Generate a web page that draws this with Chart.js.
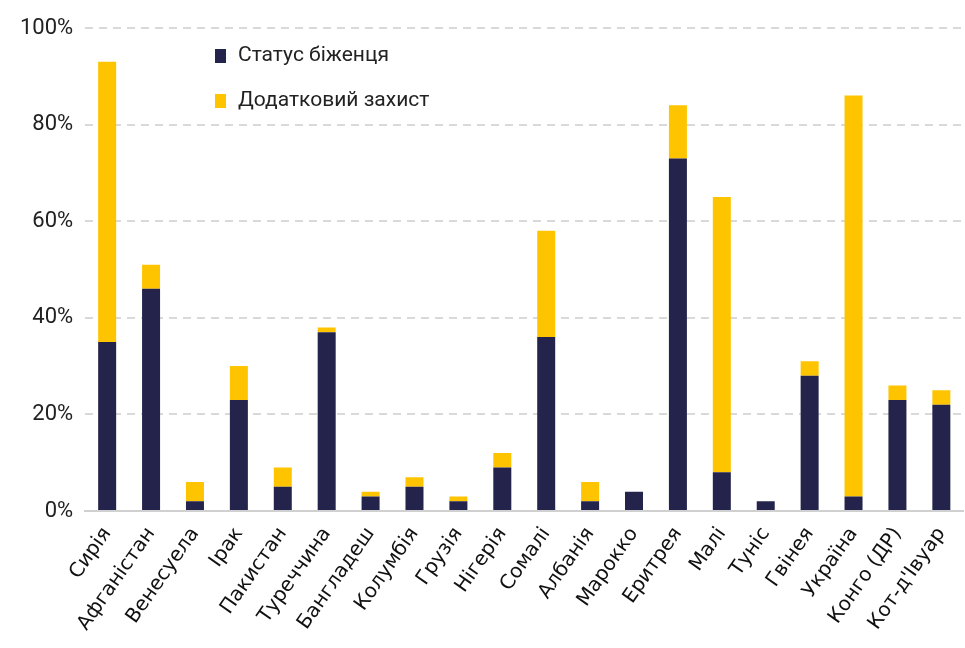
<!DOCTYPE html>
<html lang="uk">
<head>
<meta charset="utf-8">
<title>Статус біженця та додатковий захист</title>
<script src="https://cdn.jsdelivr.net/npm/chart.js@4/dist/chart.umd.min.js"></script>
<style>
  html, body { margin: 0; padding: 0; background: #fff; }
  #wrap { width: 965px; height: 648px; }
</style>
</head>
<body>
<div id="wrap"><canvas id="refugeeChart"></canvas></div>
<script>
// ==========================
// DATA
// ==========================
const countries = ['Сирія', 'Афганістан', 'Венесуела', 'Ірак', 'Пакистан', 'Туреччина', 'Бангладеш',
  'Колумбія', 'Грузія', 'Нігерія', 'Сомалі', 'Албанія', 'Марокко', 'Еритрея', 'Малі', 'Туніс',
  'Гвінея', 'Україна', 'Конго (ДР)', "Кот-д'Івуар"];
const refugeeStatus = [35, 46, 2, 23, 5, 37, 3, 5, 2, 9, 36, 2, 4, 73, 8, 2, 28, 3, 23, 22];
const subsidiaryProtection = [58, 5, 4, 7, 4, 1, 1, 2, 1, 3, 22, 4, 0, 11, 57, 0, 3, 83, 3, 3];
const yTicks = [0, 20, 40, 60, 80, 100];

const NAVY = '#24234b';
const YELLOW = '#ffc400';
const NARROW = 'Roboto, "Liberation Sans Narrow", sans-serif';

// legend drawn inside the plot, top left
const insideLegend = {
    id: 'insideLegend',
    afterDraw(chart) {
        const ctx = chart.ctx;
        ctx.save();
        ctx.font = '21px ' + NARROW;
        ctx.textBaseline = 'middle';
        chart.data.datasets.forEach((ds, i) => {
            const y = 56 + i * 45;
            ctx.fillStyle = ds.backgroundColor;
            ctx.fillRect(215, y - 7, 11, 14);
            ctx.fillStyle = '#222';
            ctx.fillText(ds.label, 238, y);
        });
        ctx.restore();
    }
};

document.addEventListener('DOMContentLoaded', () => {
    const canvas = document.getElementById('refugeeChart');

    new Chart(canvas, {
        type: 'bar',
        data: {
            labels: countries,
            datasets: [{
                label: 'Статус біженця',
                data: refugeeStatus,
                backgroundColor: NAVY,
                barPercentage: 0.82,
                categoryPercentage: 0.5
            }, {
                label: 'Додатковий захист',
                data: subsidiaryProtection,
                backgroundColor: YELLOW,
                barPercentage: 0.82,
                categoryPercentage: 0.5
            }]
        },
        options: {
            responsive: true,
            maintainAspectRatio: false,
            animation: false,
            layout: { padding: { top: 28, left: 8, right: 0, bottom: 0 } },
            plugins: {
                legend: { display: false },
                tooltip: { enabled: false }
            },
            scales: {
                x: {
                    stacked: true,
                    grid: { display: false },
                    border: { display: true, color: '#d0d0d0', width: 2 },
                    ticks: {
                        minRotation: 55,
                        maxRotation: 55,
                        padding: 4,
                        color: '#111',
                        font: { family: '"DejaVu Sans", sans-serif', size: 20 }
                    },
                    afterFit(scale) { scale.height = 137; }
                },
                y: {
                    stacked: true,
                    min: 0,
                    max: 100,
                    afterBuildTicks(scale) { scale.ticks = yTicks.map(v => ({ value: v })); },
                    grid: {
                        color: c => (c.tick && c.tick.value === 0) ? 'rgba(0,0,0,0)' : '#d9d9d9',
                        lineWidth: 2,
                        drawTicks: false
                    },
                    border: { display: false, dash: [8, 6] },
                    ticks: {
                        padding: 12,
                        color: '#222',
                        font: { family: NARROW, size: 22 },
                        callback: v => v + '%'
                    }
                }
            }
        },
        plugins: [insideLegend]
    });
});
</script>
</body>
</html>
